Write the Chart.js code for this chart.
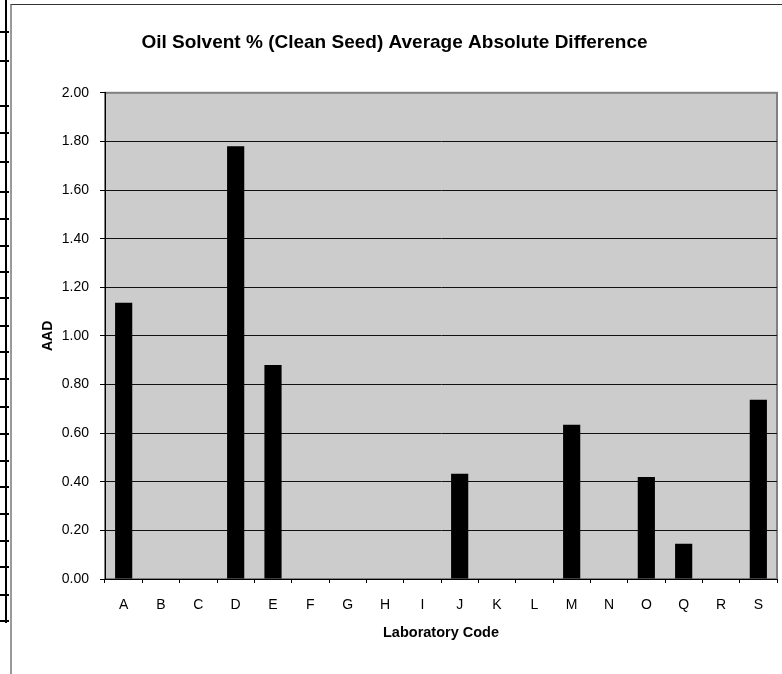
<!DOCTYPE html>
<html>
<head>
<meta charset="utf-8">
<script src="https://cdn.jsdelivr.net/npm/chart.js@4.4.1/dist/chart.umd.min.js"></script>
<style>
  body { margin: 0; background: #fff; width: 782px; height: 674px; overflow: hidden; position: relative; }
  #frame { position: absolute; left: 10px; top: 4px; width: 772px; height: 670px; border-top: 1px solid #333; border-left: 2px solid #999; box-sizing: border-box; }
  #sheet { position: absolute; left: 5px; top: 0; width: 2px; height: 623px; background: #000; }
  .row { position: absolute; left: 0; width: 9px; height: 2px; background: #000; }
  #graph { position: absolute; left: 12px; top: 5px; }
</style>
</head>
<body>
<div id="sheet"></div>
<div id="frame"></div>
<canvas id="graph" width="770" height="669"></canvas>
<script>
// données
const labos = ['A', 'B', 'C', 'D', 'E', 'F', 'G', 'H', 'I', 'J', 'K', 'L', 'M', 'N', 'O', 'Q', 'R', 'S'];
const aad = [1.136, null, null, 1.78, 0.88, null, null, null, null, 0.433, null, null, 0.635, null, 0.42, 0.145, null, 0.737];
const yTicks = [0, 0.2, 0.4, 0.6, 0.8, 1.0, 1.2, 1.4, 1.6, 1.8, 2.0];

// lignes du tableau coupé à gauche
const rowsY = [32, 61, 106, 133, 162, 192, 219, 246, 272, 298, 326, 352, 379, 407, 434, 461, 487, 514, 541, 567, 595, 621];
rowsY.forEach(function(y) {
    const d = document.createElement('div');
    d.className = 'row';
    d.style.top = (y - 1) + 'px';
    document.body.appendChild(d);
});

const fond = {
    id: 'fond',
    beforeDraw(chart) {
        const a = chart.chartArea;
        const ctx = chart.ctx;
        ctx.save();
        ctx.fillStyle = '#cccccc';
        ctx.fillRect(a.left, a.top, a.right - a.left, a.bottom - a.top);
        ctx.strokeStyle = '#808080';
        ctx.lineWidth = 2;
        ctx.strokeRect(a.left, a.top, a.right - a.left, a.bottom - a.top);
        ctx.restore();
    }
};

Chart.defaults.font.family = '"Liberation Sans", Arial, sans-serif';
Chart.defaults.color = '#000';

const ctx = document.getElementById('graph').getContext('2d');
new Chart(ctx, {
    type: 'bar',
    data: {
        labels: labos,
        datasets: [{
            label: 'AAD',
            data: aad,
            backgroundColor: '#000',
            borderWidth: 0,
            categoryPercentage: 1,
            barPercentage: 0.46
        }]
    },
    options: {
        responsive: false,
        animation: false,
        layout: { padding: { left: 0, right: 5, top: 0, bottom: 0 } },
        plugins: {
            legend: { display: false },
            tooltip: { enabled: false },
            title: {
                display: true,
                text: 'Oil Solvent % (Clean Seed) Average Absolute Difference',
                font: { size: 19, weight: 'bold' },
                padding: { top: 26, bottom: 39 }
            }
        },
        scales: {
            x: {
                afterFit(s) { s.height = 95; },
                grid: { display: true, drawOnChartArea: false, drawTicks: true, tickLength: 4, tickColor: '#000', offset: true },
                border: { color: '#000', width: 1 },
                ticks: { font: { size: 14 }, padding: 14, maxRotation: 0, autoSkip: false },
                title: { display: true, text: 'Laboratory Code', font: { size: 14.5, weight: 'bold' }, padding: { top: 0, bottom: 32 } }
            },
            y: {
                min: 0,
                max: 2,
                afterFit(s) { s.width = 93; },
                afterBuildTicks(s) { s.ticks = yTicks.map(v => ({ value: v })); },
                grid: {
                    color: c => (c.tick && c.tick.value === 2 ? '#808080' : '#111'),
                    tickColor: '#000',
                    tickLength: 5,
                    lineWidth: 1
                },
                border: { color: '#000', width: 1 },
                ticks: { font: { size: 14 }, padding: 11, callback: v => Number(v).toFixed(2) },
                title: { display: true, text: 'AAD', font: { size: 14, weight: 'bold' }, padding: { top: 28, bottom: 0 } }
            }
        }
    },
    plugins: [fond]
});
</script>
</body>
</html>
